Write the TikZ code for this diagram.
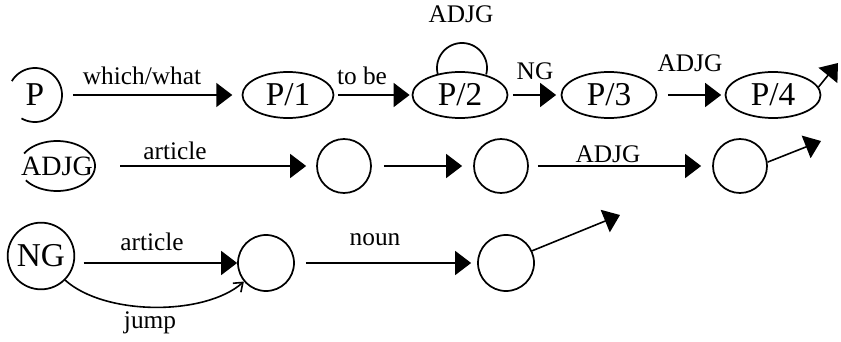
\documentclass[tikz,border=0pt]{standalone}
\usepackage{fontspec}
\setmainfont{Liberation Serif}
\usetikzlibrary{arrows.meta,shapes.geometric}

\tikzset{
  state/.style={draw,line width=1.3pt,inner sep=0pt,font=\fontsize{25}{30}\selectfont},
  pstate/.style={state,ellipse,minimum width=71.25pt,minimum height=34.5pt},
  cstate/.style={state,circle,minimum size=40.5pt},
  arr/.style={line width=1.2pt,-{Triangle[length=12pt,width=18pt]}},
  lab/.style={anchor=base,inner sep=0pt,font=\fontsize{19}{23}\selectfont},
}

\begin{document}
\begin{tikzpicture}[x=0.75pt,y=0.75pt,yscale=-1,xscale=1]
\useasboundingbox (0,0) rectangle (841,342);

%Row P: states
\node[cstate,draw=none] (P) at (35,95) {P};
\node[pstate,minimum width=68.25pt] (P1) at (288,95) {P/1};
\node[pstate] (P2) at (460,95) {P/2};
\node[pstate] (P3) at (609,95) {P/3};
\node[pstate] (P4) at (773,95) {P/4};
\coordinate (p4out) at (838,63);

%Row ADJG: states
\node[state,ellipse,draw=none,minimum width=57pt,minimum height=37.5pt,font=\fontsize{21}{25}\selectfont] (AD) at (57,166) {ADJG};
\node[cstate] (C1) at (344,166) {};
\node[cstate] (C2) at (501,166) {};
\node[cstate] (C3) at (740,166) {};
\coordinate (c3out) at (821,141);

%Row NG: states
\node[state,circle,minimum size=50pt] (NG) at (41,256) {NG};
\node[cstate,minimum size=42pt] (C4) at (266,263) {};
\node[cstate,minimum size=42pt] (C5) at (506,263) {};
\coordinate (c5out) at (620,215);

%Open outlines of P and ADJG
\draw[line width=1.3pt,shift={(P.center)}] plot[domain=-120:149,samples=80,variable=\t] ({27*cos(\t)},{-27*sin(\t)});
\draw[line width=1.3pt,shift={(AD.center)}] plot[domain=-145:150,samples=80,variable=\t] ({38*cos(\t)},{-25*sin(\t)});

%Arcs
\draw[arr,shorten <=7.5pt,shorten >=7pt] (P) -- (P1);
\draw[arr,shorten <=2.6pt,shorten >=1.5pt] (P1) -- (P2);
\draw[line width=1.3pt,shift={(P2.center)}] plot[domain=-15:195,samples=60,variable=\t] ({2+25*cos(\t)},{-27-25*sin(\t)});
\draw[arr,shorten <=3.4pt,shorten >=3.4pt] (P2) -- (P3);
\draw[arr,shorten <=7.9pt,shorten >=2.6pt] (P3) -- (P4);
\draw[arr] (P4.10) -- (p4out);

\draw[arr,shorten <=9pt,shorten >=7.5pt] (AD) -- (C1);
\draw[arr,shorten <=9pt,shorten >=8.25pt] (C1) -- (C2);
\draw[arr,shorten <=6.75pt,shorten >=8.25pt] (C2) -- (C3);
\draw[arr] (C3.8) -- (c3out);

\draw[arr,shorten <=6.4pt] (NG.east |- C4) -- (C4);
\draw[line width=1.2pt,-{Straight Barb[length=6pt,width=9pt]}] (NG.-45) .. controls (105,316) and (205,316) .. (C4.220);
\draw[arr,shorten <=8.25pt,shorten >=4.5pt] (C4) -- (C5);
\draw[arr] (C5.25) -- (c5out);

% Text Nodes
\node[lab] (lwhich) at (142,85) {which/what};
\node[lab] (ltobe) at (362,85) {to be};
\node[lab] (lloop) at (461,23) {ADJG};
\node[lab] (lng) at (535,80) {NG};
\node[lab] (ladja) at (690,72) {ADJG};
\node[lab] (larta) at (175,159) {article};
\node[lab] (ladjb) at (608,162) {ADJG};
\node[lab] (lartb) at (152,250) {article};
\node[lab] (lnoun) at (375,245) {noun};
\node[lab] (ljump) at (150,328) {jump};

\end{tikzpicture}
\end{document}
